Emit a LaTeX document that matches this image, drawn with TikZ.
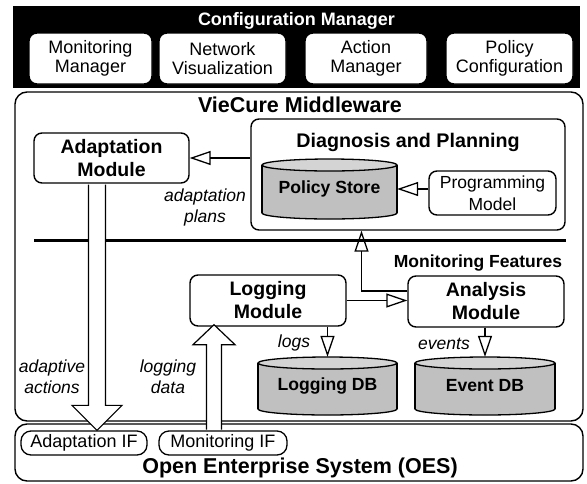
\documentclass[tikz,border=0pt]{standalone}
\usepackage{fontspec}
\setmainfont{Liberation Sans}
\usetikzlibrary{arrows.meta}
\definecolor{dbgray}{RGB}{192,192,192}
\definecolor{dbtopgray}{RGB}{212,212,212}
\newcommand\mydb[6]{% name, cx, ytop, ybot, width, text
  \fill[dbgray] (#2-#5/2,#3+6) rectangle (#2+#5/2,#4-6);
  \fill[dbgray] (#2,#4-6) ellipse[x radius=#5/2, y radius=6];
  \begin{scope}
    \clip (#2-#5/2-3,#4-6) rectangle (#2+#5/2+3,#4+3);
    \draw[line width=1.3pt] (#2,#4-6) ellipse[x radius=#5/2, y radius=6];
  \end{scope}
  \draw[line width=1.3pt] (#2-#5/2,#3+6) -- (#2-#5/2,#4-6) (#2+#5/2,#3+6) -- (#2+#5/2,#4-6);
  \filldraw[fill=dbtopgray, line width=1.3pt] (#2,#3+6) ellipse[x radius=#5/2, y radius=6];
  \node[dbnode, minimum width=#5 pt, minimum height=#4pt-#3pt] (#1) at (#2,{(#3+#4)/2}) {#6};
}
\begin{document}
\begin{tikzpicture}[x=1pt,y=-1pt,
  box/.style={draw, line width=1.4pt, rounded corners=8pt, fill=white, align=center, inner sep=0pt},
  pill/.style={draw, line width=1.3pt, rounded corners=10pt, fill=white, align=center, inner sep=0pt, font=\fontsize{18}{20}\selectfont},
  regtxt/.style={font=\fontsize{18}{19.5}\selectfont},
  modtxt/.style={font=\fontsize{19.5}{23}\selectfont\bfseries},
  bigtitle/.style={font=\fontsize{21.5}{24}\selectfont\bfseries, inner sep=0pt},
  midtitle/.style={font=\fontsize{19.7}{23}\selectfont\bfseries, inner sep=0pt},
  smalltitle/.style={font=\fontsize{17.6}{20}\selectfont\bfseries, inner sep=0pt},
  dbnode/.style={inner sep=0pt, font=\fontsize{17.6}{20}\selectfont\bfseries},
  lbl/.style={font=\fontsize{17.5}{21}\selectfont\itshape, align=center, inner sep=0pt},
  oarr/.style={line width=1.3pt, -{Triangle[open, length=21pt, width=14pt]}},
  bigarr/.style={draw, line width=1.2pt, fill=white, line join=miter}
]
\useasboundingbox (0,0) rectangle (587,483);

% Configuration manager
\node[fill=black, minimum width=567pt, minimum height=82pt, inner sep=0pt] (cmbox) at (296.5,47) {};
\node[smalltitle, text=white, font=\fontsize{18}{20}\selectfont\bfseries] (cmt) at (296.5,21) {Configuration Manager};
\node[box, regtxt, minimum width=123pt, minimum height=51pt] (mm) at (90.5,58.5) {Monitoring\\Manager};
\node[box, regtxt, minimum width=127pt, minimum height=51pt] (nv) at (222.5,58.5) {Network\\Visualization};
\node[box, regtxt, minimum width=122pt, minimum height=51pt] (amg) at (366,58.5) {Action\\Manager};
\node[box, regtxt, minimum width=127pt, minimum height=51pt] (pc) at (509.5,58.5) {Policy\\Configuration};

% Middleware and OES containers
\node[box, rounded corners=12pt, minimum width=568pt, minimum height=329pt] (mw) at (299,256.5) {};
\node[bigtitle] (mwt) at (300,105) {VieCure Middleware};
\node[box, rounded corners=12pt, minimum width=568pt, minimum height=57pt] (oes) at (299,452.5) {};
\node[bigtitle] (oest) at (300,468) {Open Enterprise System (OES)};
\node[pill, minimum width=126pt, minimum height=24pt] (aif) at (84,443) {Adaptation IF};
\node[pill, minimum width=128pt, minimum height=24pt] (mif) at (223,443) {Monitoring IF};

% Separator
\draw[line width=3pt] (34,240) -- (566,240);

% Diagnosis and Planning
\node[box, minimum width=314pt, minimum height=111pt] (dp) at (408,174.5) {};
\node[midtitle] (dpt) at (408,142) {Diagnosis and Planning};
\mydb{ps}{329.5}{159}{219}{135}{Policy Store}
\node[box, regtxt, font=\fontsize{17.5}{22}\selectfont, minimum width=127pt, minimum height=44pt] (pm) at (492.5,193) {Programming\\Model};

% Modules
\node[box, modtxt, minimum width=155pt, minimum height=50pt] (adm) at (111.5,158) {Adaptation\\Module};
\node[box, modtxt, minimum width=156pt, minimum height=51pt] (lm) at (268,300.5) {Logging\\Module};
\node[box, modtxt, minimum width=156pt, minimum height=51pt] (anm) at (486,301.5) {Analysis\\Module};
\node[smalltitle, font=\fontsize{17.5}{20}\selectfont\bfseries] (mft) at (478,263) {Monitoring Features};
\mydb{ldb}{327.5}{357}{415}{139}{Logging DB}
\mydb{edb}{485}{357}{415}{140}{Event DB}

% Labels
\node[lbl] (lap) at (205,207) {adaptation\\plans};
\node[lbl] (lad) at (52,377) {adaptive\\actions};
\node[lbl] (lld) at (168,377) {logging\\data};
\node[lbl] (llg) at (294,343) {logs};
\node[lbl] (lev) at (444,344) {events};

% Connectors
\draw[oarr] (dp.west |- adm.east) -- (adm.east);
\draw[oarr] (ps.east -| pm.west) -- (ps.east);
\draw[oarr] (lm.east) -- (anm.west |- lm.east);
\coordinate (k) at (361.5,291);
\draw[oarr] (k -| anm.west) -- (k) -- (k |- dp.south);
\draw[oarr] (ldb.north |- lm.south) -- (ldb.north);
\draw[oarr] (edb.north |- anm.south) -- (edb.north);

% Big hollow arrows
\coordinate (s1) at ([xshift=-14.5pt, yshift=-0.8pt]adm.south);
\coordinate (t1) at (s1 |- aif.north);
\draw[bigarr] ([xshift=-8.5pt]s1) -- ([xshift=-8.5pt, yshift=25pt]t1) -- ([xshift=-25pt, yshift=25pt]t1) -- (t1)
  -- ([xshift=25pt, yshift=25pt]t1) -- ([xshift=8.5pt, yshift=25pt]t1) -- ([xshift=8.5pt]s1);
\coordinate (t2) at ([xshift=-54pt, yshift=2pt]lm.south);
\coordinate (s2) at ([yshift=0.8pt]t2 |- mif.north);
\draw[bigarr] ([xshift=-7.5pt]s2) -- ([xshift=-7.5pt, yshift=-20pt]t2) -- ([xshift=-21pt, yshift=-20pt]t2) -- (t2)
  -- ([xshift=21pt, yshift=-20pt]t2) -- ([xshift=7.5pt, yshift=-20pt]t2) -- ([xshift=7.5pt]s2);
\end{tikzpicture}
\end{document}
